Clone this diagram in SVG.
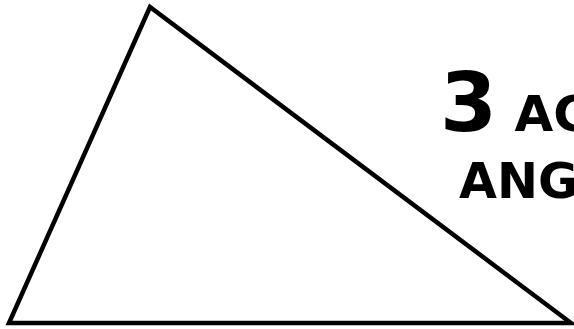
<svg xmlns="http://www.w3.org/2000/svg" width="574" height="329" viewBox="0 0 574 329">
<style>
.t{font-family:"DejaVu Sans",sans-serif;font-weight:bold;fill:#000}
</style>
<rect width="574" height="329" fill="#fff"/>
<g id="triangle">
<polygon points="150,7 9,323 571,323" fill="none" stroke="#000" stroke-width="4.5" stroke-linejoin="miter"/>
</g>
<g id="label">
<text class="t" x="440" y="131"><tspan font-size="82">3</tspan><tspan font-size="50"> ACUTE</tspan></text>
<text class="t" x="459" y="198" font-size="49">ANGLES</text>
</g>
</svg>
